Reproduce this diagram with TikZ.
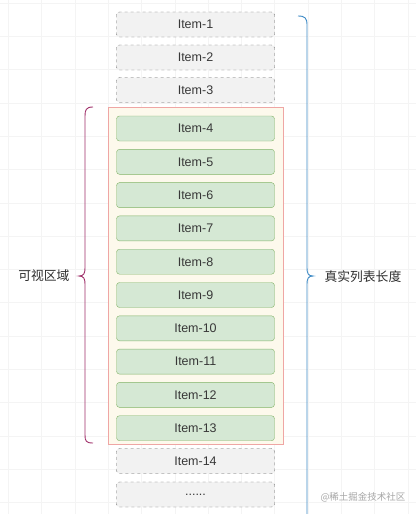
\documentclass[tikz,border=0pt]{standalone}
\usepackage{fontspec}
\setmainfont{Liberation Sans}
\newfontfamily\cjk{Noto Sans CJK SC}
\begin{document}
\begin{tikzpicture}[x=1pt,y=-1pt,
  every node/.style={font=\fontsize{12.5}{14}\selectfont, text=black!78},
  ghost/.style={draw=black!60, dashed, fill=black!5, rounded corners=3pt, minimum width=158pt, minimum height=25pt, inner sep=0pt},
  live/.style={rounded corners=3pt, minimum width=158pt, minimum height=25pt, inner sep=0pt},
  gridline/.style={draw=black!4.5, line width=0.6pt},
  cjklabel/.style={font=\cjk\fontsize{12.8}{14}\selectfont, text=black!82}
]
\definecolor{gfill}{HTML}{D5E8D4}
\definecolor{gdraw}{HTML}{82B366}
\definecolor{boxfill}{HTML}{FDF9EC}
\definecolor{boxdraw}{HTML}{EFA6A4}
\definecolor{bracel}{HTML}{A0306A}
\definecolor{bracer}{HTML}{3D8AC6}
\useasboundingbox (0,0) rectangle (416,514);
\fill[white] (0,0) rectangle (416,514);
% grid
\foreach \i in {0,...,12} {\draw[gridline] (8.3+33.3*\i,0) -- (8.3+33.3*\i,514);}
\foreach \j in {0,...,15} {\draw[gridline] (0,3+33.3*\j) -- (416,3+33.3*\j);}
% container
\node[draw=boxdraw, fill=boxfill, line width=0.8pt, minimum width=175pt, minimum height=337pt, inner sep=0pt] (view) at (195.5,275.5) {};
% items
\node[ghost] (i1) at (195.5,24.5) {Item-1};
\node[ghost] (i2) at (195.5,57.5) {Item-2};
\node[ghost] (i3) at (195.5,90) {Item-3};
\foreach \k [count=\c from 0] in {4,...,13} {
  \node[live, draw=gdraw, fill=gfill] (i\k) at (195.5,128.5+33.3*\c) {Item-\k};
}
\node[ghost] (i14) at (195.5,461) {Item-14};
\node[ghost] (i15) at (195.5,494.5) {......};
% left brace
\coordinate (lt) at (93,107);
\coordinate (lb) at (93,443);
\coordinate (ltip) at (79,276);
\draw[bracel, line width=0.9pt] (lt) .. controls (86,107) and (85,110) .. (85,116) -- (85,268) .. controls (85,273) and (84,276) .. (ltip) .. controls (84,276) and (85,279) .. (85,284) -- (85,435) .. controls (85,441) and (86,443) .. (lb);
\node[cjklabel, anchor=east] (lv) at (73,276) {可视区域};
% right brace
\coordinate (rt) at (298,16);
\coordinate (rb) at (307,516);
\coordinate (rtip) at (313,276);
\draw[bracer, line width=0.9pt] (rt) .. controls (305,16) and (307,18) .. (307,25) -- (307,268) .. controls (307,273) and (308,276) .. (rtip) .. controls (308,276) and (307,279) .. (307,284) -- (rb);
\node[cjklabel, anchor=west] (rl) at (321,277) {真实列表长度};
% watermark
\node[font=\cjk\fontsize{9.5}{11}\selectfont, text=black!35] (wm) at (363,497) {@稀土掘金技术社区};
\end{tikzpicture}
\end{document}
